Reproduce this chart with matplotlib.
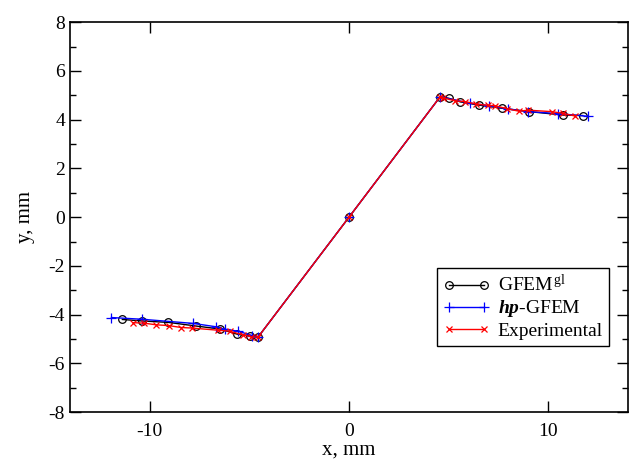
import matplotlib
matplotlib.use("Agg")
import matplotlib.pyplot as plt
from matplotlib.ticker import MultipleLocator

plt.rcParams['font.family'] = ['Liberation Serif', 'DejaVu Serif']
plt.rcParams['axes.unicode_minus'] = False
plt.rcParams['mathtext.fontset'] = 'custom'
plt.rcParams['mathtext.rm'] = 'Liberation Serif'
plt.rcParams['mathtext.it'] = 'Liberation Serif:italic'
plt.rcParams['mathtext.bf'] = 'Liberation Serif:bold:italic'

# GFEM^gl solution
gfem_x = [-11.37, -10.39, -9.06, -7.66, -6.49, -5.62, -4.99, -4.57, 0.0,
          4.57, 5.00, 5.59, 6.51, 7.66, 9.05, 10.75, 11.72]
gfem_y = [-4.20, -4.26, -4.32, -4.47, -4.59, -4.80, -4.87, -4.93, 0.0,
          4.94, 4.88, 4.73, 4.60, 4.47, 4.33, 4.19, 4.17]

# hp-GFEM solution
hp_x = [-11.92, -10.39, -7.83, -6.66, -6.24, -5.57, -4.85, -4.57, 0.0,
        4.57, 6.05, 7.01, 7.96, 9.00, 10.47, 12.0]
hp_y = [-4.12, -4.19, -4.36, -4.50, -4.60, -4.68, -4.86, -4.93, 0.0,
        4.94, 4.68, 4.58, 4.44, 4.33, 4.25, 4.14]

# experimental measurements
exp_x = [-10.84, -10.29, -9.66, -9.05, -8.41, -7.90, -6.58, -5.99, -5.32, -4.90, -4.57, 0.0,
         4.57, 4.70, 5.34, 5.84, 6.38, 6.96, 7.34, 7.93, 8.51, 9.00, 10.17, 10.72, 11.34]
exp_y = [-4.33, -4.35, -4.42, -4.45, -4.53, -4.55, -4.64, -4.68, -4.83, -4.91, -4.93, 0.0,
         4.94, 4.90, 4.77, 4.74, 4.64, 4.59, 4.57, 4.45, 4.35, 4.39, 4.33, 4.26, 4.15]

fig = plt.figure(figsize=(6.3, 4.63), dpi=100)
ax = fig.add_axes([0.111, 0.110, 0.886, 0.842])

ax.plot(gfem_x, gfem_y, color='black', lw=1.0, marker='o', ms=5.5,
        mfc='none', mec='black', mew=0.9, label=r'GFEM$^{\,\mathrm{gl}}$')
ax.plot(hp_x, hp_y, color='blue', lw=1.0, marker='+', ms=6.5, mew=0.9,
        label=r'$\mathbf{hp}$-GFEM')
ax.plot(exp_x, exp_y, color='red', lw=1.0, marker='x', ms=4, mew=0.9,
        label='Experimental')

ax.set_xlim(-14, 14)
ax.set_ylim(-8, 8)
ax.xaxis.set_major_locator(MultipleLocator(10))
ax.yaxis.set_major_locator(MultipleLocator(2))
ax.yaxis.set_minor_locator(MultipleLocator(1))
ax.tick_params(which='both', direction='in', top=True, right=True, labelsize=14, width=1.0)
ax.tick_params(which='major', length=8)
ax.tick_params(which='minor', length=4)
ax.tick_params(axis='x', pad=8)
for s in ax.spines.values():
    s.set_linewidth(1.2)

ax.set_xlabel('x, mm', fontsize=15, labelpad=0)
ax.set_ylabel('y, mm', fontsize=15, labelpad=10)

leg = ax.legend(loc='lower right', bbox_to_anchor=(0.965, 0.17), numpoints=2,
                fontsize=14, fancybox=False, framealpha=1, edgecolor='black',
                handlelength=2.4, handletextpad=0.4, borderpad=0.3, labelspacing=0.15,
                borderaxespad=0)
leg.get_frame().set_linewidth(1.0)

fig.savefig('out.png', dpi=100)
